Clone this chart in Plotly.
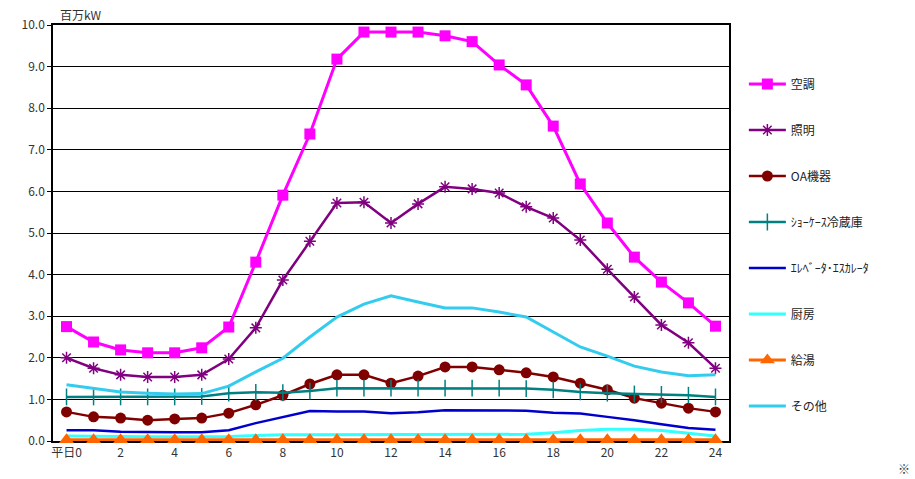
import plotly.graph_objects as go

# Hourly weekday demand by end use (million kW)
hours = list(range(25))
tick_hours = list(range(0, 25, 2))
tick_labels = ["平日0"] + [str(h) for h in tick_hours[1:]]

aircon = [2.75, 2.38, 2.19, 2.12, 2.12, 2.24, 2.74, 4.30, 5.91, 7.38, 9.18, 9.83, 9.83,
          9.83, 9.74, 9.60, 9.04, 8.56, 7.57, 6.18, 5.24, 4.42, 3.82, 3.32, 2.76]
lighting = [2.00, 1.75, 1.59, 1.54, 1.54, 1.59, 1.97, 2.72, 3.87, 4.80, 5.72, 5.74, 5.24,
            5.70, 6.11, 6.06, 5.96, 5.63, 5.36, 4.83, 4.13, 3.46, 2.79, 2.36, 1.75]
office = [0.70, 0.58, 0.55, 0.50, 0.53, 0.55, 0.67, 0.87, 1.10, 1.37, 1.59, 1.59, 1.39,
          1.56, 1.78, 1.78, 1.71, 1.64, 1.54, 1.39, 1.23, 1.03, 0.91, 0.79, 0.70]
showcase = [1.06, 1.06, 1.06, 1.06, 1.06, 1.07, 1.15, 1.17, 1.16, 1.20, 1.27, 1.27, 1.27,
            1.27, 1.27, 1.27, 1.27, 1.26, 1.23, 1.18, 1.15, 1.13, 1.12, 1.10, 1.06]
elevator = [0.26, 0.26, 0.22, 0.21, 0.21, 0.21, 0.26, 0.43, 0.58, 0.72, 0.71, 0.71, 0.67,
            0.69, 0.74, 0.74, 0.74, 0.73, 0.68, 0.66, 0.58, 0.50, 0.40, 0.31, 0.27]
kitchen = [0.12, 0.11, 0.10, 0.10, 0.10, 0.10, 0.11, 0.13, 0.15, 0.15, 0.15, 0.15, 0.15,
           0.15, 0.15, 0.15, 0.15, 0.16, 0.20, 0.25, 0.28, 0.28, 0.25, 0.18, 0.12]
hot_water = [0.03] * 25
other = [1.35, 1.27, 1.18, 1.15, 1.13, 1.14, 1.32, 1.66, 1.99, 2.50, 2.98, 3.29, 3.49,
         3.34, 3.20, 3.20, 3.10, 2.98, 2.62, 2.26, 2.04, 1.80, 1.66, 1.57, 1.59]

series = [
    ("空調", aircon, "#FF00FF", 3, dict(symbol="square", size=11)),
    ("照明", lighting, "#800080", 2.5, dict(symbol="asterisk-open", size=10, line=dict(width=1.5, color="#800080"))),
    ("OA機器", office, "#800000", 2.5, dict(symbol="circle", size=11)),
    ("ｼｮｰｹｰｽ冷蔵庫", showcase, "#008080", 2.5, dict(symbol="line-ns-open", size=12, line=dict(width=1.5, color="#008080"))),
    ("ｴﾚﾍﾞｰﾀ･ｴｽｶﾚｰﾀ", elevator, "#0000CC", 2.5, None),
    ("厨房", kitchen, "#33FFFF", 3, None),
    ("給湯", hot_water, "#FF6600", 3, dict(symbol="triangle-up", size=13)),
    ("その他", other, "#33CCEE", 3, None),
]

fig = go.Figure()
for name, vals, color, lw, marker in series:
    fig.add_trace(go.Scatter(
        x=hours, y=vals, name=name, legendgroup=name,
        mode="lines+markers" if marker else "lines",
        line=dict(color=color, width=lw),
        marker=dict(color=color, **marker) if marker else None,
        cliponaxis=False,
    ))

fig.update_layout(
    width=915, height=479,
    margin=dict(l=53, r=186, t=25, b=38, autoexpand=False),
    paper_bgcolor="white", plot_bgcolor="white",
    font=dict(family="Noto Sans CJK JP, sans-serif", size=12, color="#333333"),
    showlegend=True,
    legend=dict(
        x=1.022, xanchor="left", y=0.893, yanchor="top",
        tracegroupgap=27, itemwidth=37,
        font=dict(size=12, color="#222222"),
        bgcolor="rgba(0,0,0,0)",
    ),
    xaxis=dict(
        range=[-0.5, 24.5], tickmode="array", tickvals=tick_hours, ticktext=tick_labels,
        showgrid=False, zeroline=False, showline=True, linecolor="black", linewidth=1.5,
        mirror=True, ticks="", tickfont=dict(size=12, color="#333333"),
        layer="below traces",
    ),
    yaxis=dict(
        range=[0, 10], dtick=1, tickformat=".1f",
        showgrid=True, gridcolor="black", gridwidth=1.2, zeroline=False,
        showline=True, linecolor="black", linewidth=1.5, mirror=True,
        ticks="outside", ticklen=4, tickcolor="black",
        tickfont=dict(size=12, color="#333333"),
        layer="below traces",
    ),
    annotations=[
        dict(text="百万kW", xref="paper", yref="paper", x=0.008, y=1.0, xanchor="left",
             yanchor="bottom", showarrow=False, font=dict(size=12, color="#333333")),
        dict(text="※", xref="paper", yref="paper", x=1.27, y=-0.065, xanchor="right",
             yanchor="middle", showarrow=False, font=dict(size=12, color="#333333")),
    ],
)

fig.write_html("out.html")
